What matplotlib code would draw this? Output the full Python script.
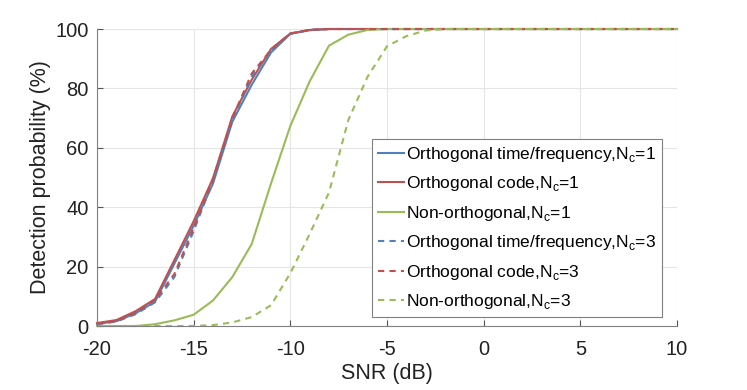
import matplotlib
matplotlib.use("Agg")
import matplotlib.pyplot as plt
import numpy as np

plt.rcParams['font.family'] = ['Liberation Sans', 'DejaVu Sans']
plt.rcParams['mathtext.fontset'] = 'custom'
plt.rcParams['mathtext.rm'] = 'Liberation Sans'

snr = list(range(-20, 11))

otf_nc1 = [0.7, 1.6, 4.3, 8.2, 21, 33.8, 48, 68.8, 81.2, 92.1, 98.4, 99.6, 100, 100, 100, 100,
           100, 100, 100, 100, 100, 100, 100, 100, 100, 100, 100, 100, 100, 100, 100]
oc_nc1 = [1.0, 2.0, 5.0, 9.1, 22.2, 35.3, 49.8, 70.6, 82.9, 93.3, 98.5, 99.7, 100, 100, 100, 100,
          100, 100, 100, 100, 100, 100, 100, 100, 100, 100, 100, 100, 100, 100, 100]
no_nc1 = [0, 0, 0, 0.6, 1.9, 3.8, 8.6, 16.5, 27.6, 48, 67.4, 82.4, 94.4, 98.1, 99.7, 100,
          100, 100, 100, 100, 100, 100, 100, 100, 100, 100, 100, 100, 100, 100, 100]
otf_nc3 = [0.6, 1.5, 4.0, 8.0, 16.5, 32.0, 49.0, 69.5, 84.0, 92.8, 98.4, 99.7, 100, 100, 100, 100,
           100, 100, 100, 100, 100, 100, 100, 100, 100, 100, 100, 100, 100, 100, 100]
oc_nc3 = [0.7, 1.7, 4.5, 8.8, 17.5, 33.0, 49.5, 70.0, 85.0, 93.0, 98.5, 99.7, 100, 100, 100, 100,
          100, 100, 100, 100, 100, 100, 100, 100, 100, 100, 100, 100, 100, 100, 100]
no_nc3 = [0, 0, 0, 0, 0, 0, 0.3, 1.2, 3.0, 7.0, 17.8, 31.0, 45.0, 69.4, 84.0, 94.2,
          97.6, 99.5, 100, 100, 100, 100, 100, 100, 100, 100, 100, 100, 100, 100, 100]

labels = [
    r'Orthogonal time/frequency,N$_\mathregular{c}$=1',
    r'Orthogonal code,N$_\mathregular{c}$=1',
    r'Non-orthogonal,N$_\mathregular{c}$=1',
    r'Orthogonal time/frequency,N$_\mathregular{c}$=3',
    r'Orthogonal code,N$_\mathregular{c}$=3',
    r'Non-orthogonal,N$_\mathregular{c}$=3',
]
xticks = [-20, -15, -10, -5, 0, 5, 10]
yticks = [0, 20, 40, 60, 80, 100]

blue = '#4F81BD'
red = '#C0504D'
green = '#9BBB59'

fig = plt.figure(figsize=(7.47, 3.9), dpi=100)
ax = fig.add_axes([0.1299, 0.1641, 0.7764, 0.7615])

series = [(otf_nc1, blue, '-'), (oc_nc1, red, '-'), (no_nc1, green, '-'),
          (otf_nc3, blue, '--'), (oc_nc3, red, '--'), (no_nc3, green, '--')]
for (vals, c, ls), lab in zip(series, labels):
    ax.plot(snr, vals, color=c, linestyle=ls, linewidth=1.5, label=lab,
            dashes=(3, 2.5) if ls == '--' else (None, None), clip_on=False)

ax.set_xlim(-20, 10)
ax.set_ylim(0, 100)
ax.set_xticks(xticks)
ax.set_yticks(yticks)
ax.set_xticklabels([str(t) for t in xticks])
ax.grid(True, color='#e5e5e5', linewidth=0.8)
ax.set_axisbelow(True)
for s in ['top', 'right']:
    ax.spines[s].set_visible(False)
for s in ['left', 'bottom']:
    ax.spines[s].set_color('#808080')
    ax.spines[s].set_linewidth(0.8)
ax.tick_params(direction='in', length=4, width=0.8, color='#555555',
               labelsize=14.5, labelcolor='#222222')
ax.tick_params(axis='x', pad=10)
ax.tick_params(axis='y', pad=6)
ax.set_xlabel('SNR (dB)', fontsize=15.5, color='#222222', labelpad=3)
ax.set_ylabel('Detection probability (%)', fontsize=15.5, color='#222222', labelpad=3)

leg = ax.legend(loc='lower right', bbox_to_anchor=(0.974, 0.030), borderaxespad=0,
                fontsize=12.5, frameon=True, fancybox=False, edgecolor='#808080',
                handlelength=1.5, handletextpad=0.12, labelspacing=0.6,
                borderpad=0.35, framealpha=1)
leg.get_frame().set_linewidth(0.8)

fig.savefig('out.png', dpi=100)
